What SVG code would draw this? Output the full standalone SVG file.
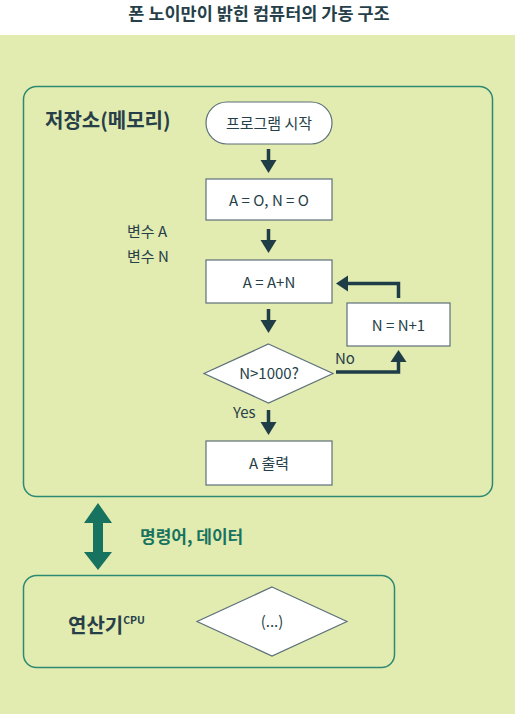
<svg xmlns="http://www.w3.org/2000/svg" width="515" height="714" viewBox="0 0 515 714">
<defs>
<style>
.t{font-family:"Noto Sans CJK KR","Noto Sans",sans-serif;fill:#263f49}
.s{font-size:15px;font-weight:normal}
.box{fill:#fff;stroke:#5d7179;stroke-width:1.2}
.frame{fill:none;stroke:#2c8a72;stroke-width:1.5}
.ln{fill:none;stroke:#1f3d47;stroke-width:3.5}
.hd{fill:#1f3d47}
</style>
</defs>
<rect x="0" y="0" width="515" height="714" fill="#fff"/>
<rect x="0" y="35" width="515" height="679" fill="#e2ebb0"/>
<text class="t" x="259" y="20" font-size="17.5" font-weight="bold" text-anchor="middle">폰 노이만이 밝힌 컴퓨터의 가동 구조</text>

<g id="memory">
<rect class="frame" x="23.5" y="86.5" width="469" height="410" rx="13"/>
<text class="t" x="45" y="128" font-size="20" font-weight="bold">저장소(메모리)</text>
<text class="t s" x="127" y="237">변수 A</text>
<text class="t s" x="127" y="262">변수 N</text>
</g>

<g id="start">
<rect class="box" x="206" y="102" width="126" height="42" rx="21"/>
<text class="t s" x="269" y="128.5" text-anchor="middle">프로그램 시작</text>
</g>
<g id="init">
<rect class="box" x="206" y="179" width="126" height="41"/>
<text class="t s" x="269" y="205.5" text-anchor="middle">A = O, N = O</text>
</g>
<g id="sum">
<rect class="box" x="206" y="260" width="126" height="43"/>
<text class="t s" x="269" y="287.5" text-anchor="middle">A = A+N</text>
</g>
<g id="inc">
<rect class="box" x="347" y="303" width="103" height="43"/>
<text class="t s" x="398.5" y="330.5" text-anchor="middle">N = N+1</text>
</g>
<g id="cond">
<polygon class="box" points="268.5,344 333,373.5 268.5,403 204,373.5"/>
<text class="t s" x="269" y="379" text-anchor="middle" font-size="15.5">N&gt;1000?</text>
</g>
<g id="output">
<rect class="box" x="206" y="441" width="126" height="44"/>
<text class="t s" x="269" y="468.5" text-anchor="middle">A 출력</text>
</g>

<g id="connectors">
<rect class="hd" x="266.75" y="149" width="3.5" height="12"/>
<polygon class="hd" points="260.5,160 276.5,160 268.5,173"/>
<rect class="hd" x="266.75" y="229" width="3.5" height="12"/>
<polygon class="hd" points="260.5,240 276.5,240 268.5,253"/>
<rect class="hd" x="266.75" y="309" width="3.5" height="12"/>
<polygon class="hd" points="260.5,320 276.5,320 268.5,333"/>
<rect class="hd" x="266.75" y="410" width="3.5" height="13"/>
<polygon class="hd" points="260.5,422 276.5,422 268.5,435"/>
<polyline class="ln" points="398.5,298 398.5,283.5 346,283.5"/>
<polygon class="hd" points="336,283.5 348,275.5 348,291.5"/>
<polyline class="ln" points="336,372 398.5,372 398.5,360"/>
<polygon class="hd" points="398.5,350 390.5,362 406.5,362"/>
<text class="t s" x="335" y="364">No</text>
<text class="t s" x="233" y="418">Yes</text>
<polygon fill="#17735f" points="98,503 112,523 103,523 103,552 112,552 98,570 84,552 93,552 93,523 84,523"/>
<text x="140" y="543" font-size="17" font-weight="bold" fill="#17735f" font-family="Noto Sans CJK KR, sans-serif">명령어, 데이터</text>
</g>

<g id="cpu">
<rect class="frame" x="23.5" y="575.5" width="371" height="92" rx="13"/>
<text class="t" x="68" y="633" font-size="20" font-weight="bold">연산기<tspan font-size="10.5" dy="-9">CPU</tspan></text>
<polygon class="box" points="272,587 347,621.5 272,656 197,621.5"/>
<text class="t s" x="272" y="627" font-size="16" text-anchor="middle">(...)</text>
</g>
</svg>
